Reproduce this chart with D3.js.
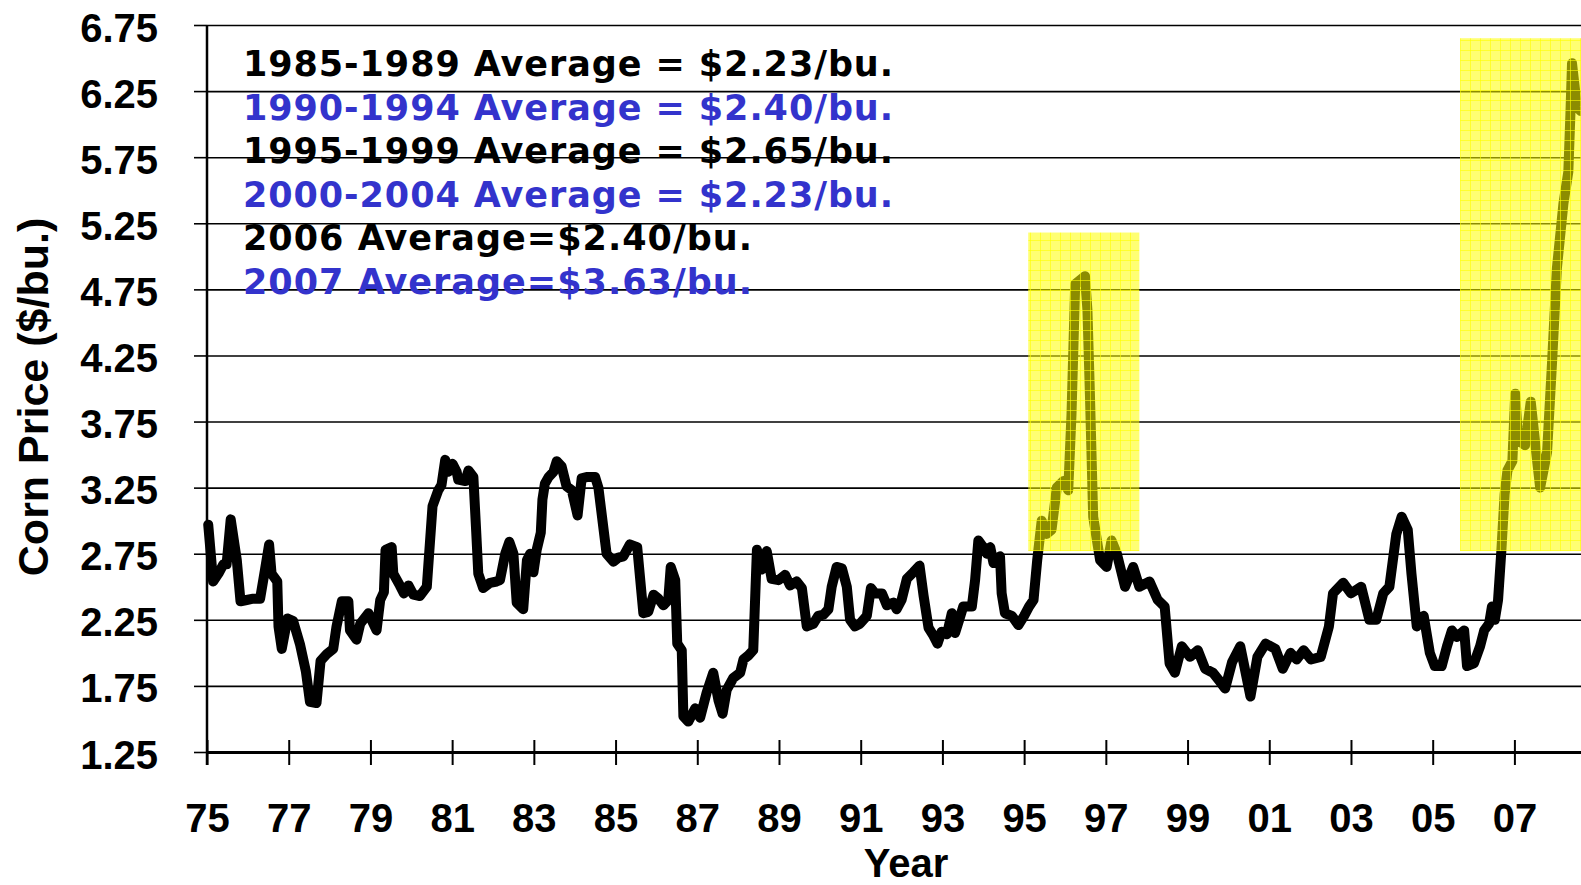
<!DOCTYPE html>
<html>
<head>
<meta charset="utf-8">
<script src="https://cdn.jsdelivr.net/npm/d3@7"></script>
<style>
  body { margin: 0; background: #fff; }
  svg { display: block; }
</style>
</head>
<body>
<svg id="chart"></svg>
<script>
// corn price readings (decimal year, $/bu.)
var years = [
  1975.03, 1975.15, 1975.28, 1975.40, 1975.48, 1975.58, 1975.73, 1975.82, 1975.97, 1976.13,
  1976.30, 1976.42, 1976.52, 1976.58, 1976.72, 1976.75, 1976.83, 1976.97, 1977.11, 1977.28,
  1977.42, 1977.52, 1977.68, 1977.78, 1977.93, 1978.09, 1978.17, 1978.30, 1978.46, 1978.50,
  1978.66, 1978.75, 1978.95, 1979.15, 1979.24, 1979.33, 1979.37, 1979.52, 1979.56, 1979.72,
  1979.82, 1979.93, 1980.05, 1980.21, 1980.38, 1980.46, 1980.52, 1980.66, 1980.74, 1980.83,
  1980.91, 1981.01, 1981.11, 1981.15, 1981.32, 1981.40, 1981.52, 1981.59, 1981.64, 1981.76,
  1981.93, 1982.09, 1982.17, 1982.30, 1982.40, 1982.50, 1982.58, 1982.74, 1982.83, 1982.91,
  1982.99, 1983.07, 1983.17, 1983.21, 1983.27, 1983.36, 1983.48, 1983.56, 1983.68, 1983.80,
  1983.93, 1984.07, 1984.17, 1984.29, 1984.50, 1984.58, 1984.78, 1984.95, 1985.07, 1985.19,
  1985.35, 1985.53, 1985.68, 1985.80, 1985.93, 1986.05, 1986.17, 1986.29, 1986.35, 1986.46,
  1986.51, 1986.62, 1986.66, 1986.78, 1986.95, 1987.07, 1987.23, 1987.39, 1987.52, 1987.62,
  1987.72, 1987.88, 1988.05, 1988.13, 1988.25, 1988.37, 1988.46, 1988.58, 1988.70, 1988.82,
  1988.99, 1989.15, 1989.27, 1989.43, 1989.56, 1989.68, 1989.84, 1989.96, 1990.09, 1990.21,
  1990.29, 1990.41, 1990.54, 1990.66, 1990.74, 1990.86, 1990.98, 1991.15, 1991.25, 1991.35,
  1991.52, 1991.64, 1991.80, 1991.88, 1992.00, 1992.13, 1992.29, 1992.44, 1992.54, 1992.66,
  1992.78, 1992.88, 1992.98, 1993.11, 1993.23, 1993.31, 1993.43, 1993.51, 1993.72, 1993.80,
  1993.88, 1994.00, 1994.09, 1994.17, 1994.25, 1994.41, 1994.45, 1994.53, 1994.70, 1994.86,
  1995.00, 1995.12, 1995.23, 1995.32, 1995.43, 1995.55, 1995.67, 1995.80, 1995.96, 1996.08,
  1996.16, 1996.25, 1996.37, 1996.49, 1996.55, 1996.61, 1996.69, 1996.86, 1997.02, 1997.14,
  1997.27, 1997.47, 1997.67, 1997.82, 1998.07, 1998.27, 1998.44, 1998.56, 1998.69, 1998.86,
  1999.06, 1999.25, 1999.43, 1999.62, 1999.80, 1999.92, 2000.09, 2000.29, 2000.54, 2000.71,
  2000.91, 2001.15, 2001.33, 2001.52, 2001.67, 2001.84, 2002.02, 2002.26, 2002.46, 2002.56,
  2002.81, 2003.00, 2003.25, 2003.45, 2003.62, 2003.79, 2003.94, 2004.11, 2004.24, 2004.39,
  2004.48, 2004.61, 2004.78, 2004.93, 2005.05, 2005.22, 2005.35, 2005.47, 2005.59, 2005.77,
  2005.84, 2006.01, 2006.16, 2006.26, 2006.38, 2006.45, 2006.52, 2006.60, 2006.68, 2006.76,
  2006.83, 2006.95, 2007.02, 2007.09, 2007.26, 2007.40, 2007.55, 2007.63, 2007.80, 2007.92,
  2008.04, 2008.20, 2008.32, 2008.37, 2008.41, 2008.53, 2008.62
];
var prices = [
  2.97, 2.54, 2.60, 2.67, 2.67, 3.01, 2.70, 2.39, 2.40, 2.41,
  2.41, 2.63, 2.82, 2.60, 2.54, 2.20, 2.03, 2.26, 2.24, 2.06,
  1.86, 1.63, 1.62, 1.94, 1.99, 2.03, 2.20, 2.39, 2.39, 2.17,
  2.10, 2.22, 2.30, 2.17, 2.40, 2.46, 2.78, 2.80, 2.60, 2.51,
  2.45, 2.51, 2.44, 2.43, 2.50, 2.85, 3.11, 3.23, 3.27, 3.46,
  3.37, 3.43, 3.37, 3.31, 3.30, 3.38, 3.33, 2.91, 2.60, 2.49,
  2.53, 2.54, 2.55, 2.75, 2.84, 2.75, 2.38, 2.33, 2.70, 2.75,
  2.61, 2.78, 2.91, 3.16, 3.28, 3.33, 3.37, 3.45, 3.41, 3.26,
  3.23, 3.04, 3.32, 3.33, 3.33, 3.25, 2.75, 2.69, 2.72, 2.73,
  2.82, 2.80, 2.30, 2.31, 2.44, 2.41, 2.36, 2.40, 2.65, 2.55,
  2.07, 2.02, 1.52, 1.48, 1.58, 1.51, 1.70, 1.85, 1.64, 1.54,
  1.72, 1.81, 1.85, 1.95, 1.98, 2.02, 2.78, 2.63, 2.77, 2.56,
  2.55, 2.59, 2.51, 2.54, 2.49, 2.20, 2.22, 2.28, 2.29, 2.33,
  2.50, 2.65, 2.64, 2.50, 2.25, 2.20, 2.22, 2.28, 2.49, 2.45,
  2.45, 2.36, 2.38, 2.33, 2.40, 2.56, 2.61, 2.66, 2.43, 2.19,
  2.13, 2.07, 2.16, 2.14, 2.30, 2.15, 2.27, 2.35, 2.35, 2.55,
  2.85, 2.80, 2.75, 2.80, 2.68, 2.73, 2.45, 2.30, 2.28, 2.21,
  2.28, 2.35, 2.40, 2.70, 3.00, 2.90, 2.93, 3.25, 3.30, 3.23,
  3.81, 4.79, 4.82, 4.85, 4.59, 3.96, 3.03, 2.70, 2.65, 2.85,
  2.75, 2.50, 2.65, 2.50, 2.54, 2.40, 2.35, 1.92, 1.85, 2.05,
  1.97, 2.02, 1.88, 1.85, 1.78, 1.73, 1.93, 2.05, 1.67, 1.97,
  2.07, 2.03, 1.88, 2.00, 1.95, 2.02, 1.95, 1.97, 2.20, 2.45,
  2.53, 2.45, 2.50, 2.25, 2.25, 2.45, 2.50, 2.90, 3.03, 2.93,
  2.60, 2.20, 2.28, 2.00, 1.90, 1.90, 2.05, 2.17, 2.12, 2.17,
  1.90, 1.92, 2.05, 2.17, 2.22, 2.35, 2.25, 2.40, 2.77, 3.20,
  3.38, 3.45, 3.96, 3.61, 3.57, 3.90, 3.47, 3.25, 3.52, 4.19,
  4.91, 5.40, 5.64, 6.07, 6.46, 6.13, 6.10
];

var y_ticks = [1.25, 1.75, 2.25, 2.75, 3.25, 3.75, 4.25, 4.75, 5.25, 5.75, 6.25, 6.75];
var x_ticks = [1975, 1977, 1979, 1981, 1983, 1985, 1987, 1989, 1991, 1993, 1995, 1997, 1999, 2001, 2003, 2005, 2007];

var notes = [
  "1985-1989 Average = $2.23/bu.",
  "1990-1994 Average = $2.40/bu.",
  "1995-1999 Average = $2.65/bu.",
  "2000-2004 Average = $2.23/bu.",
  "2006 Average=$2.40/bu.",
  "2007 Average=$3.63/bu."
];
var note_colors = ["#000000", "#3333cc", "#000000", "#3333cc", "#000000", "#3333cc"];

// highlighted periods
var hl_start = [1995.1, 2005.67];
var hl_end = [1997.82, 2008.7];
var hl_top = [5.18, 6.65];
var hl_bottom = [2.77, 2.77];

// layout
var width = 1581, height = 885;
var plot_left = 207, plot_top = 25, plot_bottom = 752;
var x_max = 2008.63;
var note_widths = [650, 650, 650, 650, 509, 509];

var svg = d3.select('#chart').attr('width', width).attr('height', height);

var defs = svg.append('defs');
var pat = defs.append('pattern')
    .attr('id', 'yellow-grid')
    .attr('patternUnits', 'userSpaceOnUse')
    .attr('width', 10).attr('height', 10);
pat.append('rect').attr('width', 10).attr('height', 10).attr('fill', 'rgba(255,255,0,0.55)');
pat.append('path').attr('d', 'M0,0.5H10M0.5,0V10')
    .attr('stroke', 'rgba(255,255,0,0.6)').attr('stroke-width', 1);

var x = d3.scaleLinear().domain([1975, x_max]).range([plot_left, width]);
var y = d3.scaleLinear().domain([1.25, 6.75]).range([plot_bottom, plot_top]);

// gridlines
var grid = svg.append('g')
    .attr('transform', 'translate(' + plot_left + ',0)')
    .call(d3.axisLeft(y).tickValues(y_ticks).tickSize(-(width - plot_left)).tickFormat(''));
grid.select('.domain').remove();
grid.selectAll('line').attr('stroke', '#000').attr('stroke-width', 1.6);

// y axis ticks + labels
var yAxis = svg.append('g')
    .attr('transform', 'translate(' + plot_left + ',0)')
    .call(d3.axisLeft(y).tickValues(y_ticks).tickSize(13).tickPadding(36).tickFormat(d3.format('.2f')));
yAxis.select('.domain').remove();
yAxis.selectAll('line').attr('stroke', '#000').attr('stroke-width', 1.6);
yAxis.selectAll('text')
    .attr('dy', '0.4em')
    .attr('fill', '#000')
    .attr('font-family', 'Liberation Sans, Arial, sans-serif')
    .attr('font-weight', 'bold')
    .attr('font-size', '40px');

// price line
var line = d3.line()
    .x(function(d, i) { return x(years[i]); })
    .y(function(d) { return y(d); });

svg.append('path')
    .datum(prices)
    .attr('d', line)
    .attr('fill', 'none')
    .attr('stroke', '#000')
    .attr('stroke-width', 10)
    .attr('stroke-linejoin', 'round')
    .attr('stroke-linecap', 'round');

// highlight boxes over the line
svg.selectAll('.hl')
    .data(hl_start).enter().append('rect')
    .attr('class', 'hl')
    .attr('x', function(d) { return x(d); })
    .attr('y', function(d, i) { return y(hl_top[i]); })
    .attr('width', function(d, i) { return x(hl_end[i]) - x(d); })
    .attr('height', function(d, i) { return y(hl_bottom[i]) - y(hl_top[i]); })
    .attr('fill', 'url(#yellow-grid)');

// x axis
var xAxis = svg.append('g')
    .attr('transform', 'translate(0,' + plot_bottom + ')')
    .call(d3.axisBottom(x).tickValues(x_ticks).tickSizeInner(13).tickSizeOuter(0).tickPadding(39)
        .tickFormat(function(d) { return d3.format('02d')(d % 100); }));
xAxis.select('.domain').attr('stroke', '#000').attr('stroke-width', 3);
xAxis.selectAll('line').attr('y1', -12).attr('stroke', '#000').attr('stroke-width', 2);
xAxis.selectAll('text')
    .attr('fill', '#000')
    .attr('font-family', 'Liberation Sans, Arial, sans-serif')
    .attr('font-weight', 'bold')
    .attr('font-size', '40px');

// y axis line
svg.append('line')
    .attr('x1', plot_left).attr('x2', plot_left)
    .attr('y1', plot_top).attr('y2', plot_bottom + 13)
    .attr('stroke', '#000').attr('stroke-width', 2.5);

// axis titles
svg.append('text')
    .attr('transform', 'translate(48,397) rotate(-90)')
    .style('text-anchor', 'middle')
    .attr('font-family', 'Liberation Sans, Arial, sans-serif')
    .attr('font-weight', 'bold')
    .attr('font-size', '43px')
    .text('Corn Price ($/bu.)');

svg.append('text')
    .attr('x', 906).attr('y', 877)
    .style('text-anchor', 'middle')
    .attr('font-family', 'Liberation Sans, Arial, sans-serif')
    .attr('font-weight', 'bold')
    .attr('font-size', '40px')
    .text('Year');

// average notes
svg.selectAll('.note')
    .data(notes).enter().append('text')
    .attr('class', 'note')
    .attr('x', 243)
    .attr('y', function(d, i) { return 76 + i * 43.6; })
    .attr('fill', function(d, i) { return note_colors[i]; })
    .attr('font-family', 'DejaVu Sans, Verdana, sans-serif')
    .attr('font-weight', 'bold')
    .attr('font-size', '35px')
    .attr('textLength', function(d, i) { return note_widths[i]; })
    .attr('lengthAdjust', 'spacing')
    .text(function(d) { return d; });
</script>
</body>
</html>
